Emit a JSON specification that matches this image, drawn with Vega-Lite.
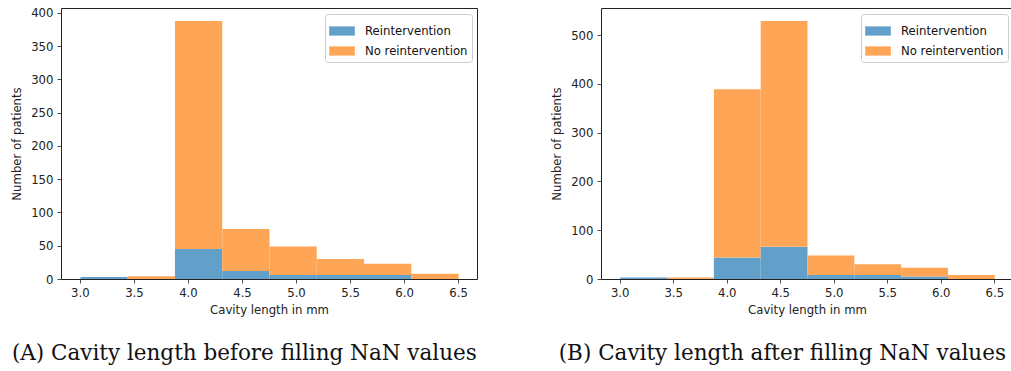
{
  "$schema": "https://vega.github.io/schema/vega-lite/v6.json",
  "padding": {"left": 11, "top": 7, "right": 0, "bottom": 0},
  "datasets": {
    "hist": [
      {"panel": "A", "bin_start": 3.0, "bin_end": 3.4375, "group": "Reintervention", "ord": 1, "count": 3},
      {"panel": "A", "bin_start": 3.0, "bin_end": 3.4375, "group": "No reintervention", "ord": 2, "count": 0},
      {"panel": "A", "bin_start": 3.4375, "bin_end": 3.875, "group": "Reintervention", "ord": 1, "count": 0},
      {"panel": "A", "bin_start": 3.4375, "bin_end": 3.875, "group": "No reintervention", "ord": 2, "count": 4},
      {"panel": "A", "bin_start": 3.875, "bin_end": 4.3125, "group": "Reintervention", "ord": 1, "count": 45},
      {"panel": "A", "bin_start": 3.875, "bin_end": 4.3125, "group": "No reintervention", "ord": 2, "count": 343},
      {"panel": "A", "bin_start": 4.3125, "bin_end": 4.75, "group": "Reintervention", "ord": 1, "count": 12},
      {"panel": "A", "bin_start": 4.3125, "bin_end": 4.75, "group": "No reintervention", "ord": 2, "count": 63},
      {"panel": "A", "bin_start": 4.75, "bin_end": 5.1875, "group": "Reintervention", "ord": 1, "count": 6},
      {"panel": "A", "bin_start": 4.75, "bin_end": 5.1875, "group": "No reintervention", "ord": 2, "count": 43},
      {"panel": "A", "bin_start": 5.1875, "bin_end": 5.625, "group": "Reintervention", "ord": 1, "count": 6},
      {"panel": "A", "bin_start": 5.1875, "bin_end": 5.625, "group": "No reintervention", "ord": 2, "count": 24},
      {"panel": "A", "bin_start": 5.625, "bin_end": 6.0625, "group": "Reintervention", "ord": 1, "count": 6},
      {"panel": "A", "bin_start": 5.625, "bin_end": 6.0625, "group": "No reintervention", "ord": 2, "count": 17},
      {"panel": "A", "bin_start": 6.0625, "bin_end": 6.5, "group": "Reintervention", "ord": 1, "count": 0},
      {"panel": "A", "bin_start": 6.0625, "bin_end": 6.5, "group": "No reintervention", "ord": 2, "count": 8},
      {"panel": "B", "bin_start": 3.0, "bin_end": 3.4375, "group": "Reintervention", "ord": 1, "count": 3},
      {"panel": "B", "bin_start": 3.0, "bin_end": 3.4375, "group": "No reintervention", "ord": 2, "count": 0},
      {"panel": "B", "bin_start": 3.4375, "bin_end": 3.875, "group": "Reintervention", "ord": 1, "count": 0},
      {"panel": "B", "bin_start": 3.4375, "bin_end": 3.875, "group": "No reintervention", "ord": 2, "count": 3},
      {"panel": "B", "bin_start": 3.875, "bin_end": 4.3125, "group": "Reintervention", "ord": 1, "count": 44},
      {"panel": "B", "bin_start": 3.875, "bin_end": 4.3125, "group": "No reintervention", "ord": 2, "count": 345},
      {"panel": "B", "bin_start": 4.3125, "bin_end": 4.75, "group": "Reintervention", "ord": 1, "count": 66},
      {"panel": "B", "bin_start": 4.3125, "bin_end": 4.75, "group": "No reintervention", "ord": 2, "count": 463},
      {"panel": "B", "bin_start": 4.75, "bin_end": 5.1875, "group": "Reintervention", "ord": 1, "count": 8},
      {"panel": "B", "bin_start": 4.75, "bin_end": 5.1875, "group": "No reintervention", "ord": 2, "count": 40},
      {"panel": "B", "bin_start": 5.1875, "bin_end": 5.625, "group": "Reintervention", "ord": 1, "count": 8},
      {"panel": "B", "bin_start": 5.1875, "bin_end": 5.625, "group": "No reintervention", "ord": 2, "count": 22},
      {"panel": "B", "bin_start": 5.625, "bin_end": 6.0625, "group": "Reintervention", "ord": 1, "count": 5},
      {"panel": "B", "bin_start": 5.625, "bin_end": 6.0625, "group": "No reintervention", "ord": 2, "count": 18},
      {"panel": "B", "bin_start": 6.0625, "bin_end": 6.5, "group": "Reintervention", "ord": 1, "count": 0},
      {"panel": "B", "bin_start": 6.0625, "bin_end": 6.5, "group": "No reintervention", "ord": 2, "count": 8}
    ]
  },
  "hconcat": [
    {
      "width": 416,
      "height": 271,
      "title": {"text": "(A) Cavity length before filling NaN values"},
      "data": {"name": "hist"},
      "transform": [{"filter": "datum.panel === 'A'"}],
      "mark": {"type": "bar"},
      "encoding": {
        "x": {"field": "bin_start", "type": "quantitative", "bin": "binned", "title": "Cavity length in mm",
              "scale": {"domain": [2.825, 6.675], "nice": false, "zero": false},
              "axis": {"values": [3.0, 3.5, 4.0, 4.5, 5.0, 5.5, 6.0, 6.5], "format": ".1f"}},
        "x2": {"field": "bin_end"},
        "y": {"field": "count", "type": "quantitative", "stack": "zero", "title": "Number of patients",
              "scale": {"domain": [0, 407.4], "nice": false},
              "axis": {"values": [0, 50, 100, 150, 200, 250, 300, 350, 400]}},
        "color": {"field": "group", "type": "nominal",
                  "scale": {"domain": ["Reintervention", "No reintervention"], "range": ["#62a0ca", "#ffa556"]},
                  "legend": {"title": null}},
        "order": {"field": "ord", "type": "quantitative"}
      }
    },
    {
      "width": 412,
      "height": 271,
      "title": {"text": "(B) Cavity length after filling NaN values"},
      "data": {"name": "hist"},
      "transform": [{"filter": "datum.panel === 'B'"}],
      "mark": {"type": "bar"},
      "encoding": {
        "x": {"field": "bin_start", "type": "quantitative", "bin": "binned", "title": "Cavity length in mm",
              "scale": {"domain": [2.825, 6.675], "nice": false, "zero": false},
              "axis": {"values": [3.0, 3.5, 4.0, 4.5, 5.0, 5.5, 6.0, 6.5], "format": ".1f"}},
        "x2": {"field": "bin_end"},
        "y": {"field": "count", "type": "quantitative", "stack": "zero", "title": "Number of patients",
              "scale": {"domain": [0, 555.45], "nice": false},
              "axis": {"values": [0, 100, 200, 300, 400, 500]}},
        "color": {"field": "group", "type": "nominal",
                  "scale": {"domain": ["Reintervention", "No reintervention"], "range": ["#62a0ca", "#ffa556"]},
                  "legend": {"title": null}},
        "order": {"field": "ord", "type": "quantitative"}
      }
    }
  ],
  "spacing": 73,
  "resolve": {
    "scale": {"x": "independent", "y": "independent", "color": "independent"},
    "legend": {"color": "independent"}
  },
  "config": {
    "font": "DejaVu Sans",
    "background": "white",
    "view": {"stroke": "#222", "strokeWidth": 1},
    "bar": {"stroke": null, "binSpacing": 0},
    "axis": {
      "grid": false,
      "domain": false,
      "tickColor": "#222",
      "tickSize": 4,
      "tickWidth": 0.8,
      "labelFont": "DejaVu Sans",
      "labelFontSize": 11.7,
      "labelColor": "#222",
      "labelPadding": 4,
      "titleFont": "DejaVu Sans",
      "titleFontSize": 11.7,
      "titleFontWeight": "normal",
      "titleColor": "#222"
    },
    "axisY": {"titlePadding": 8},
    "axisX": {"titlePadding": 6},
    "legend": {
      "orient": "top-right",
      "offset": 5.5,
      "labelFont": "DejaVu Sans",
      "labelFontSize": 11.7,
      "labelColor": "#111",
      "symbolType": "M-1,-0.36H1V0.36H-1Z",
      "symbolSize": 655,
      "symbolStrokeWidth": 0,
      "symbolOpacity": 1,
      "strokeColor": "#cccccc",
      "fillColor": "rgba(255,255,255,0.8)",
      "padding": 4,
      "cornerRadius": 3,
      "rowPadding": -7,
      "labelOffset": 10
    },
    "title": {
      "orient": "bottom",
      "anchor": "middle",
      "frame": "bounds",
      "font": "DejaVu Serif",
      "fontSize": 21.5,
      "fontWeight": "normal",
      "color": "#111",
      "offset": 27
    }
  }
}
